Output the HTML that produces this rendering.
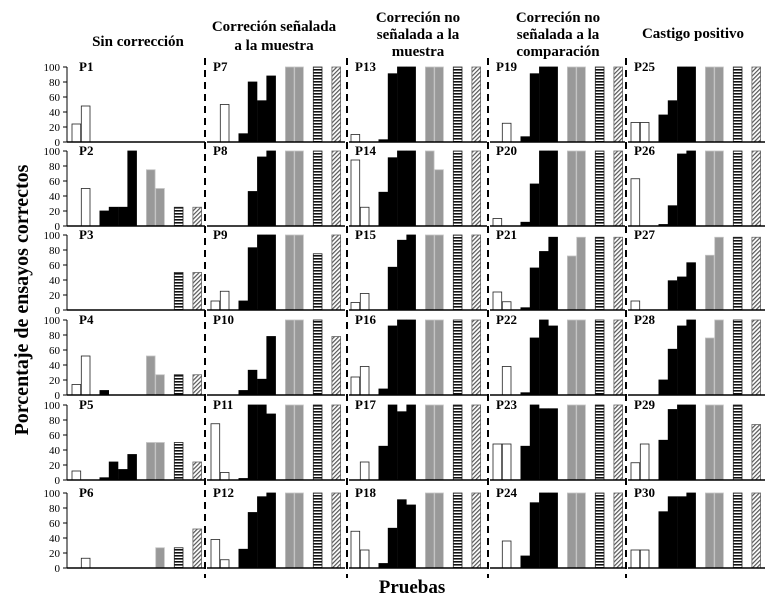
<!DOCTYPE html>
<html><head><meta charset="utf-8"><style>
html,body{margin:0;padding:0;background:#fff;}
svg{display:block;font-family:"Liberation Serif",serif;}
</style></head><body>
<svg id="chart" width="776" height="598" viewBox="0 0 776 598">
<defs>
<pattern id="hstripe" width="4" height="3" patternUnits="userSpaceOnUse"><rect width="4" height="3" fill="#fff"/><rect width="4" height="1.6" fill="#111"/></pattern>
<pattern id="diag" width="3" height="3" patternUnits="userSpaceOnUse" patternTransform="rotate(45)"><rect width="3" height="3" fill="#fff"/><rect width="1.2" height="3" fill="#555"/></pattern>
</defs>
<g font-weight="bold" font-size="15" text-anchor="middle" fill="#000">
<text x="138" y="46">Sin corrección</text>
<text x="274" y="31">Correción señalada</text>
<text x="274" y="50">a la muestra</text>
<text x="418" y="22">Correción no</text>
<text x="418" y="39">señalada a la</text>
<text x="418" y="56">muestra</text>
<text x="558" y="22">Correción no</text>
<text x="558" y="39">señalada a la</text>
<text x="558" y="56">comparación</text>
<text x="693" y="38">Castigo positivo</text>
</g>
<text x="0" y="0" transform="translate(28,300) rotate(-90)" text-anchor="middle" font-weight="bold" font-size="20">Porcentaje de ensayos correctos</text>
<text x="412" y="593" text-anchor="middle" font-weight="bold" font-size="19">Pruebas</text>
<g id="panels"></g>
</svg>
<script>
// slots: white1, white2, black1..4, gray1, gray2, hstripe, diag
const participants = ["P1","P2","P3","P4","P5","P6","P7","P8","P9","P10","P11","P12","P13","P14","P15","P16","P17","P18","P19","P20","P21","P22","P23","P24","P25","P26","P27","P28","P29","P30"];
const whiteValues = [[24,48],[0,50],[0,0],[14,52],[12,0],[0,13],[0,50],[0,0],[12,25],[0,0],[75,10],[38,11],[10,0],[88,25],[10,22],[24,38],[0,24],[49,24],[0,25],[10,0],[24,11],[0,38],[48,48],[0,36],[26,26],[63,0],[12,0],[0,0],[23,48],[24,24]];
const blackValues = [[0,0,0,0],[20,25,25,100],[0,0,0,0],[6,0,0,0],[3,24,14,34],[0,0,0,0],[11,80,55,88],[0,46,92,100],[12,83,100,100],[6,33,21,78],[2,100,100,88],[25,74,95,100],[3,91,100,100],[45,91,100,100],[0,57,93,100],[8,92,100,100],[45,100,91,100],[6,53,91,84],[7,91,100,100],[5,56,100,100],[3,56,78,97],[3,76,100,92],[45,100,95,95],[16,87,100,100],[36,55,100,100],[2,27,96,100],[0,39,44,63],[20,61,92,100],[53,94,100,100],[75,95,95,100]];
const grayValues = [[0,0],[75,50],[0,0],[52,27],[50,50],[0,27],[100,100],[100,100],[100,100],[100,100],[100,100],[100,100],[100,100],[100,75],[100,100],[100,100],[100,100],[100,100],[100,100],[100,100],[72,97],[100,100],[100,100],[100,100],[100,100],[100,100],[73,97],[76,100],[100,100],[100,100]];
const hstripeValues = [0,25,50,27,50,27,100,100,75,100,100,100,100,100,100,100,100,100,100,100,97,100,100,100,100,100,97,100,100,100];
const diagValues = [0,25,50,27,24,52,100,100,100,78,100,100,100,100,100,100,100,100,100,100,97,100,100,100,100,100,97,100,74,100];
const yTicks = [0,20,40,60,80,100];

const NS="http://www.w3.org/2000/svg";
const g=document.getElementById('panels');
const colLeft=[67,207,349,490,628], colRight=[205,345,487,625,765], colSlot0=[72,211,351,493,631];
const rowBase=[142,226,310,395,480,568];
const PH=75, PITCH=9.3, BW=8.7;
function yScale(v,r){return rowBase[r]-v/100*PH;}
function xSlot(c,s){return colSlot0[c]+s*PITCH;}
function mk(tag,attrs){const e=document.createElementNS(NS,tag);for(const k in attrs)e.setAttribute(k,attrs[k]);return e;}
[205,347,488,626].forEach((x,i)=>{
  const l=mk('line',{x1:x,y1:58,x2:x,y2:578,stroke:'#000','stroke-width':2,'stroke-dasharray':'7,5'});
  
  
  g.appendChild(l);
});
participants.forEach((p,i)=>{
  const c=Math.floor(i/6), r=i%6;
  const pg=mk('g',{});
  
  
  g.appendChild(pg);
  const bars=[];
  whiteValues[i].forEach((v,k)=>bars.push([k,v,'#fff','#222','white-bar']));
  blackValues[i].forEach((v,k)=>bars.push([3+k,v,'#000','#000','black-bar']));
  grayValues[i].forEach((v,k)=>bars.push([8+k,v,'#999','#c4c4c4','gray-bar']));
  bars.push([11,hstripeValues[i],'url(#hstripe)','#222','hstripe-bar']);
  bars.push([13,diagValues[i],'url(#diag)','#666','diag-bar']);
  bars.forEach(b=>{
    if(b[1]<=0) return;
    const y=yScale(b[1],r);
    const rc=mk('rect',{x:xSlot(c,b[0]),y:y,width:BW,height:rowBase[r]-y,fill:b[2],stroke:b[3],'stroke-width':0.8});
    
    
    pg.appendChild(rc);
  });
  const base=mk('line',{x1:colLeft[c],y1:rowBase[r],x2:colRight[c],y2:rowBase[r],stroke:'#000','stroke-width':1.6});
  
  
  pg.appendChild(base);
  const t=mk('text',{x:colLeft[c]+(c===0?12:6),y:rowBase[r]-PH+4,'font-weight':'bold','font-size':13});
  t.textContent=p;
  
  
  pg.appendChild(t);
  if(c===0){
    const ax=mk('line',{x1:67,y1:rowBase[r]-PH,x2:67,y2:rowBase[r],stroke:'#000','stroke-width':1});
    
    
    pg.appendChild(ax);
    yTicks.forEach(v=>{
      const y=yScale(v,r);
      const tk=mk('line',{x1:63,y1:y,x2:67,y2:y,stroke:'#000','stroke-width':1});
      
      
      pg.appendChild(tk);
      const tl=mk('text',{x:60,y:y+4,'text-anchor':'end','font-size':11});
      tl.textContent=v;
      
      
      pg.appendChild(tl);
    });
  }
});
</script>
</body></html>
